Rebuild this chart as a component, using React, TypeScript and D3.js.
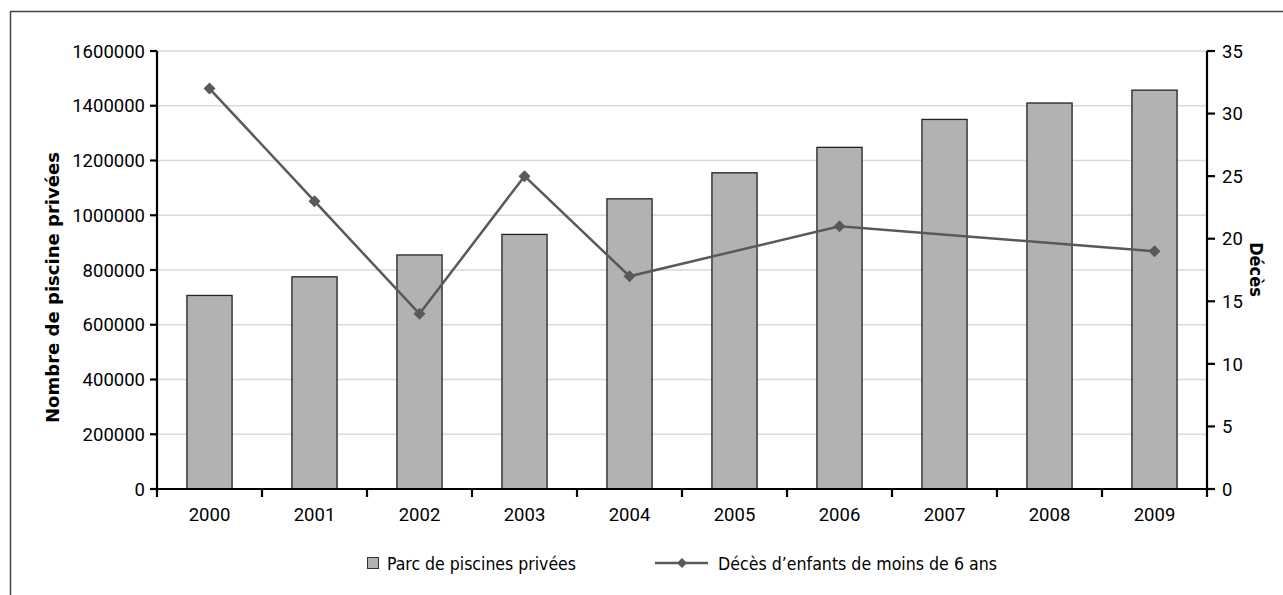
import React from "react";
import * as d3 from "d3";

const years = ["2000", "2001", "2002", "2003", "2004", "2005", "2006", "2007", "2008", "2009"];
const pools = [707000, 775000, 855000, 930000, 1060000, 1155000, 1248000, 1350000, 1410000, 1457000];
const deaths: (number | null)[] = [32, 23, 14, 25, 17, null, 21, null, null, 19];
const leftTicks = [0, 200000, 400000, 600000, 800000, 1000000, 1200000, 1400000, 1600000];
const rightTicks = [0, 5, 10, 15, 20, 25, 30, 35];
const leftTitle = "Nombre de piscine privées";
const rightTitle = "Décès";
const legendBar = "Parc de piscines privées";
const legendLine = "Décès d’enfants de moins de 6 ans";

const W = 1283, H = 595;
const L = 157, R = 1207, T = 51, B = 489;
const NUM_FONT = "Roboto, 'Open Sans', sans-serif";
const TXT_FONT = "'DejaVu Sans Condensed', 'DejaVu Sans', sans-serif";

export default function App() {
  const x = d3.scaleBand<string>().domain(years).range([L, R]).paddingInner(0.57).paddingOuter(0.285);
  const xb = d3.scaleBand<string>().domain(years).range([L, R]);
  const yL = d3.scaleLinear().domain([0, 1600000]).range([B, T]);
  const yR = d3.scaleLinear().domain([0, 35]).range([B, T]);
  const pts = years
    .map((yr, i) => ({ yr, v: deaths[i] }))
    .filter((d) => d.v !== null) as { yr: string; v: number }[];
  const line = d3
    .line<{ yr: string; v: number }>()
    .x((d) => (xb(d.yr) as number) + xb.bandwidth() / 2)
    .y((d) => yR(d.v));
  const diamond = (cx: number, cy: number, r: number) =>
    `M${cx},${cy - r}L${cx + r},${cy}L${cx},${cy + r}L${cx - r},${cy}Z`;
  const lineColor = "#595959";
  const barFill = "#b2b2b4";

  return (
    <svg width={W} height={H} style={{ position: "absolute", left: 0, top: 0 }} fontFamily={NUM_FONT}>
      <rect x={0} y={0} width={W} height={H} fill="#fff" />
      <rect x={10.5} y={11.5} width={1400} height={700} fill="none" stroke="#444" strokeWidth={1.5} />
      {leftTicks.slice(1).map((t) => (
        <line key={t} x1={L} x2={R} y1={yL(t)} y2={yL(t)} stroke="#d9d9d9" strokeWidth={1.5} />
      ))}
      {years.map((yr, i) => (
        <rect
          key={yr}
          x={x(yr)}
          y={yL(pools[i])}
          width={x.bandwidth()}
          height={B - yL(pools[i])}
          fill={barFill}
          stroke="#222"
          strokeWidth={1.3}
        />
      ))}
      {/* axes */}
      <line x1={L} x2={L} y1={T} y2={B} stroke="#000" strokeWidth={2.2} />
      <line x1={R} x2={R} y1={T} y2={B} stroke="#000" strokeWidth={2.2} />
      <line x1={L} x2={R} y1={B} y2={B} stroke="#000" strokeWidth={2.2} />
      {leftTicks.map((t) => (
        <g key={t}>
          <line x1={L - 7} x2={L} y1={yL(t)} y2={yL(t)} stroke="#000" strokeWidth={2.2} />
          <text x={L - 12} y={yL(t)} dy="0.36em" textAnchor="end" fontSize={18.5}>
            {t}
          </text>
        </g>
      ))}
      {rightTicks.map((t) => (
        <g key={t}>
          <line x1={R} x2={R + 8} y1={yR(t)} y2={yR(t)} stroke="#000" strokeWidth={2.2} />
          <text x={R + 15} y={yR(t)} dy="0.36em" textAnchor="start" fontSize={18.5}>
            {t}
          </text>
        </g>
      ))}
      {years.map((yr) => (
        <line key={yr} x1={xb(yr)} x2={xb(yr)} y1={B} y2={B + 8} stroke="#000" strokeWidth={2.2} />
      ))}
      <line x1={R} x2={R} y1={B} y2={B + 8} stroke="#000" strokeWidth={2.2} />
      {years.map((yr) => (
        <text
          key={yr}
          x={(xb(yr) as number) + xb.bandwidth() / 2}
          y={521}
          textAnchor="middle"
          fontSize={18.5}
        >
          {yr}
        </text>
      ))}
      {/* line series */}
      <path d={line(pts) as string} fill="none" stroke={lineColor} strokeWidth={2.5} />
      {pts.map((p) => (
        <path
          key={p.yr}
          d={diamond((xb(p.yr) as number) + xb.bandwidth() / 2, yR(p.v), 6)}
          fill={lineColor}
        />
      ))}
      {/* titles */}
      <text
        transform={`translate(59,287.5) rotate(-90)`}
        textAnchor="middle"
        fontSize={18}
        fontWeight="bold"
        fontFamily={TXT_FONT}
        textLength={271}
        lengthAdjust="spacingAndGlyphs"
      >
        {leftTitle}
      </text>
      <text
        transform={`translate(1250,269.5) rotate(90)`}
        textAnchor="middle"
        fontSize={18}
        fontWeight="bold"
        fontFamily={TXT_FONT}
      >
        {rightTitle}
      </text>
      {/* legend */}
      <rect x={367.5} y={557.5} width={11} height={11} fill={barFill} stroke="#333" strokeWidth={1} />
      <text
        x={387}
        y={569.5}
        fontSize={17.5}
        fontFamily={TXT_FONT}
        textLength={189}
        lengthAdjust="spacingAndGlyphs"
      >
        {legendBar}
      </text>
      <line x1={655} x2={708} y1={563} y2={563} stroke={lineColor} strokeWidth={2.5} />
      <path d={diamond(682, 563, 5)} fill={lineColor} />
      <text
        x={718}
        y={569.5}
        fontSize={17.5}
        fontFamily={TXT_FONT}
        textLength={279}
        lengthAdjust="spacingAndGlyphs"
      >
        {legendLine}
      </text>
    </svg>
  );
}
